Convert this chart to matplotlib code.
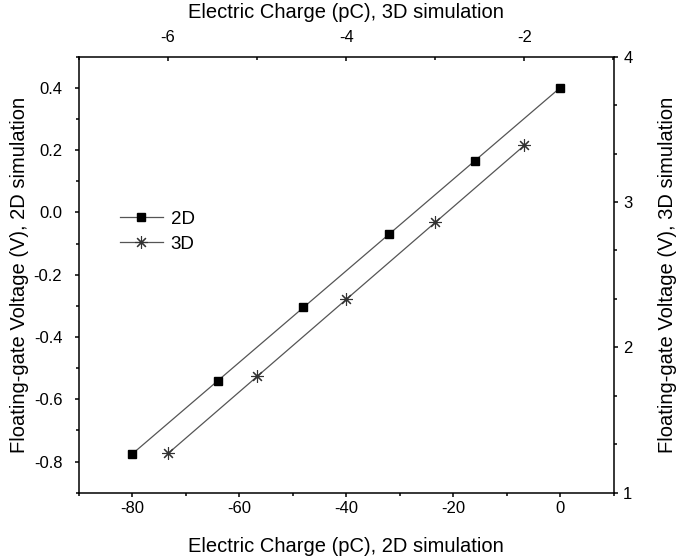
import matplotlib
matplotlib.use("Agg")
import matplotlib.pyplot as plt
from matplotlib.ticker import MultipleLocator, FormatStrFormatter

plt.rcParams['font.family'] = ['Liberation Sans', 'DejaVu Sans']
plt.rcParams['axes.unicode_minus'] = False

# 2D simulation (bottom / left axes)
charge_2d = [-80, -64, -48, -32, -16, 0]
voltage_2d = [-0.775, -0.54, -0.305, -0.07, 0.165, 0.40]
# 3D simulation (top / right axes)
charge_3d = [-6, -5, -4, -3, -2]
voltage_3d = [1.27, 1.80, 2.33, 2.86, 3.39]

fig = plt.figure(figsize=(6.76, 5.59), dpi=100)
pos = [79/676, 1-492.7/559, (613.5-79)/676, (492.7-56.7)/559]
ax = fig.add_axes(pos)
ax2 = fig.add_axes(pos, frameon=False)

lc = '#555555'
ax.plot(charge_2d, voltage_2d, color=lc, lw=0.9, marker='s', ms=6,
        mfc='black', mec='black', label='2D')
ax2.plot(charge_3d, voltage_3d, color=lc, lw=0.9, marker=(8, 2, 0), ms=9,
         mec='#333333', mew=0.8, label='3D')

MAJ, MIN = 3.0, 1.9
LFS = 14.5

ax.set_xlim(-90, 10)
ax.set_ylim(-0.9, 0.5)
ax.xaxis.set_major_locator(MultipleLocator(20))
ax.xaxis.set_minor_locator(MultipleLocator(10))
ax.yaxis.set_major_locator(MultipleLocator(0.2))
ax.yaxis.set_minor_locator(MultipleLocator(0.1))
ax.tick_params(which='both', direction='out', labelsize=12, width=1.1)
ax.tick_params(which='major', length=MAJ)
ax.tick_params(which='minor', length=MIN)
ax.tick_params(axis='y', which='major', pad=9)
ax.tick_params(axis='x', which='major', pad=3)
ax.yaxis.set_major_formatter(FormatStrFormatter('%.1f'))
for s in ax.spines.values():
    s.set_linewidth(1.1)

ax2.set_xlim(-7, -1)
ax2.set_ylim(1, 4)
ax2.xaxis.tick_top()
ax2.xaxis.set_label_position('top')
ax2.yaxis.tick_right()
ax2.yaxis.set_label_position('right')
ax2.xaxis.set_major_locator(MultipleLocator(2))
ax2.xaxis.set_minor_locator(MultipleLocator(1))
ax2.yaxis.set_major_locator(MultipleLocator(1))
ax2.yaxis.set_minor_locator(MultipleLocator(1/3))
ax2.tick_params(which='both', labelsize=12, width=1.1)
ax2.tick_params(axis='x', which='both', direction='in')
ax2.tick_params(axis='x', which='major', pad=8.5)
ax2.tick_params(axis='y', which='both', direction='out')
ax2.tick_params(axis='y', which='major', pad=4)
ax2.tick_params(which='major', length=MAJ)
ax2.tick_params(which='minor', length=MIN)

ax.set_xlabel('Electric Charge (pC), 2D simulation', fontsize=LFS, labelpad=15)
ax.set_ylabel('Floating-gate Voltage (V), 2D simulation', fontsize=LFS, labelpad=3.5)
ax2.set_xlabel('Electric Charge (pC), 3D simulation', fontsize=LFS, labelpad=8.5)
ax2.set_ylabel('Floating-gate Voltage (V), 3D simulation', fontsize=LFS, labelpad=18)

h1, l1 = ax.get_legend_handles_labels()
h2, l2 = ax2.get_legend_handles_labels()
ax.legend(h1 + h2, l1 + l2, loc='upper left', bbox_to_anchor=(0.045, 0.685),
          frameon=False, fontsize=13.5, handlelength=2.3, labelspacing=0.4,
          handletextpad=0.4)

fig.savefig('out.png', dpi=100)
